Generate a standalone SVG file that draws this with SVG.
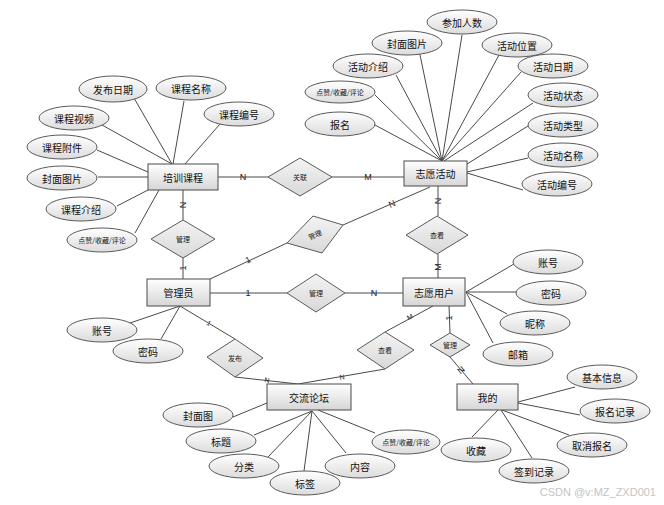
<svg xmlns="http://www.w3.org/2000/svg" width="664" height="505" viewBox="0 0 664 505">
<defs>
<linearGradient id="ge" x1="0" y1="0" x2="0" y2="1"><stop offset="0" stop-color="#ffffff"/><stop offset="1" stop-color="#dcdcdc"/></linearGradient>
<linearGradient id="gr" x1="0" y1="0" x2="0" y2="1"><stop offset="0" stop-color="#ffffff"/><stop offset="1" stop-color="#d6d6d6"/></linearGradient>
<linearGradient id="gd" x1="0" y1="0" x2="0" y2="1"><stop offset="0" stop-color="#f4f4f4"/><stop offset="1" stop-color="#d8d8d8"/></linearGradient>
</defs>
<style>
.e{fill:url(#ge);stroke:#5a5a5a;stroke-width:1}
.r{fill:url(#gr);stroke:#4a4a4a;stroke-width:1}
.d{fill:url(#gd);stroke:#5a5a5a;stroke-width:1}
.t{font-family:"Noto Sans CJK SC","Noto Sans",sans-serif;font-size:10px;fill:#111;text-anchor:middle;dominant-baseline:central}
.ts{font-family:"Noto Sans CJK SC","Noto Sans",sans-serif;font-size:7px;fill:#111;text-anchor:middle;dominant-baseline:central}
.tr{font-family:"Noto Sans CJK SC","Noto Sans",sans-serif;font-size:7px;fill:#222;text-anchor:middle;dominant-baseline:central}
.c{stroke:#4a4a4a;stroke-width:1;fill:none}
.l{font-family:"Liberation Sans",Arial,sans-serif;font-size:9px;fill:#222;text-anchor:middle;dominant-baseline:central}
.ls{font-family:"Liberation Sans",Arial,sans-serif;font-size:7px;fill:#222;text-anchor:middle;dominant-baseline:central}
</style>
<rect width="664" height="505" fill="#fff"/>
<g id="connectors">
<!-- 培训课程 attributes -->
<line class="c" x1="134" y1="98" x2="172" y2="164"/>
<line class="c" x1="184" y1="101" x2="173" y2="164"/>
<line class="c" x1="220" y1="124" x2="185" y2="164"/>
<line class="c" x1="102" y1="125" x2="172" y2="164"/>
<line class="c" x1="97" y1="150" x2="148" y2="172"/>
<line class="c" x1="98" y1="177" x2="148" y2="177"/>
<line class="c" x1="117" y1="206" x2="148" y2="190"/>
<line class="c" x1="135" y1="233" x2="159" y2="190"/>
<!-- 志愿活动 attributes -->
<line class="c" x1="375" y1="95" x2="442" y2="161"/>
<line class="c" x1="396" y1="75" x2="442" y2="161"/>
<line class="c" x1="419" y1="50" x2="442" y2="161"/>
<line class="c" x1="462" y1="35" x2="442" y2="161"/>
<line class="c" x1="499" y1="55" x2="442" y2="161"/>
<line class="c" x1="521" y1="72" x2="442" y2="161"/>
<line class="c" x1="533" y1="103" x2="444" y2="161"/>
<line class="c" x1="375" y1="125" x2="442" y2="161"/>
<line class="c" x1="528" y1="126" x2="467" y2="164"/>
<line class="c" x1="528" y1="158" x2="467" y2="172"/>
<line class="c" x1="523" y1="190" x2="467" y2="173"/>
<!-- 志愿用户 attributes -->
<line class="c" x1="466" y1="292" x2="514" y2="264"/>
<line class="c" x1="466" y1="292" x2="516" y2="292"/>
<line class="c" x1="466" y1="292" x2="507" y2="314"/>
<line class="c" x1="466" y1="292" x2="493" y2="343"/>
<!-- 管理员 attributes -->
<line class="c" x1="180" y1="306" x2="130" y2="323"/>
<line class="c" x1="180" y1="306" x2="161" y2="339"/>
<!-- 交流论坛 attributes -->
<line class="c" x1="233" y1="417" x2="267" y2="403"/>
<line class="c" x1="254" y1="435" x2="312" y2="411"/>
<line class="c" x1="268" y1="457" x2="312" y2="411"/>
<line class="c" x1="304" y1="471" x2="312" y2="411"/>
<line class="c" x1="346" y1="453" x2="312" y2="411"/>
<line class="c" x1="375" y1="433" x2="318" y2="410"/>
<!-- 我的 attributes -->
<line class="c" x1="518" y1="402" x2="575" y2="387"/>
<line class="c" x1="518" y1="403" x2="580" y2="415"/>
<line class="c" x1="502" y1="410" x2="569" y2="435"/>
<line class="c" x1="498" y1="410" x2="472" y2="437"/>
<line class="c" x1="501" y1="410" x2="532" y2="458"/>
<!-- relationships -->
<line class="c" x1="218" y1="177" x2="268" y2="177"/>
<line class="c" x1="332" y1="177" x2="404" y2="177"/>
<line class="c" x1="183" y1="190" x2="183" y2="220"/>
<line class="c" x1="183" y1="258" x2="183" y2="279"/>
<line class="c" x1="210" y1="279" x2="287" y2="243"/>
<line class="c" x1="343" y1="225" x2="430" y2="187"/>
<line class="c" x1="438" y1="186" x2="438" y2="216"/>
<line class="c" x1="438" y1="254" x2="438" y2="278"/>
<line class="c" x1="210" y1="293" x2="287" y2="293"/>
<line class="c" x1="345" y1="293" x2="403" y2="293"/>
<line class="c" x1="433" y1="306" x2="385" y2="332"/>
<line class="c" x1="385" y1="369" x2="298" y2="384"/>
<line class="c" x1="180" y1="306" x2="235" y2="339"/>
<line class="c" x1="235" y1="377" x2="298" y2="384"/>
<line class="c" x1="449" y1="306" x2="450" y2="333"/>
<line class="c" x1="450" y1="357" x2="473" y2="384"/>
<!-- cardinality labels -->
<text class="l" x="243" y="177">N</text>
<text class="l" x="368" y="177">M</text>
<text class="l" x="183" y="205" transform="rotate(-90 183 205)">N</text>
<text class="l" x="183" y="268" transform="rotate(-90 183 268)">1</text>
<text class="l" x="248" y="260" transform="rotate(-25 248 260)">1</text>
<text class="l" x="392" y="204" transform="rotate(-24 392 204)">N</text>
<text class="l" x="438" y="201" transform="rotate(-90 438 201)">N</text>
<text class="l" x="438" y="267" transform="rotate(-90 438 267)">M</text>
<text class="l" x="248" y="293">1</text>
<text class="l" x="374" y="293">N</text>
<text class="ls" x="410" y="317" transform="rotate(-28 410 317)">M</text>
<text class="ls" x="342" y="377" transform="rotate(-10 342 377)">N</text>
<text class="ls" x="209" y="323" transform="rotate(31 209 323)">1</text>
<text class="ls" x="267" y="380" transform="rotate(6 267 380)">N</text>
<text class="l" x="449" y="318" transform="rotate(-90 449 318)">1</text>
<text class="l" x="461" y="370" transform="rotate(-40 461 370)">N</text>
</g>
<g id="e-peixun"><rect class="r" x="148" y="164" width="70" height="26"/><text class="t" x="183" y="177">培训课程</text></g>
<g id="e-huodong"><rect class="r" x="404" y="161" width="63" height="25"/><text class="t" x="435.5" y="173.5">志愿活动</text></g>
<g id="e-admin"><rect class="r" x="147" y="279" width="63" height="27"/><text class="t" x="178.5" y="292.5">管理员</text></g>
<g id="e-user"><rect class="r" x="403" y="278" width="62" height="28"/><text class="t" x="434" y="292">志愿用户</text></g>
<g id="e-forum"><rect class="r" x="267" y="384" width="84" height="26"/><text class="t" x="309" y="397">交流论坛</text></g>
<g id="e-mine"><rect class="r" x="457" y="384" width="61" height="26"/><text class="t" x="487.5" y="397">我的</text></g>
<g id="r-guanlian"><polygon class="d" points="268,177 300,158 332,177 300,196"/><text class="tr" x="300" y="177">关联</text></g>
<g id="r-guanli1"><polygon class="d" points="151,239 183,220 215,239 183,258"/><text class="tr" x="183" y="239">管理</text></g>
<g id="r-guanli2"><polygon class="d" points="287,243 313,216 343,225 322,253"/><text class="tr" x="315" y="234.5" transform="rotate(-22 315 234.5)">管理</text></g>
<g id="r-chakan1"><polygon class="d" points="406,235 437,216 468,235 437,254"/><text class="tr" x="437" y="235">查看</text></g>
<g id="r-guanli3"><polygon class="d" points="287,293 316,274 345,293 316,312"/><text class="tr" x="316" y="293">管理</text></g>
<g id="r-fabu"><polygon class="d" points="207,357 235,339 263,358 235,377"/><text class="tr" x="235" y="358">发布</text></g>
<g id="r-chakan2"><polygon class="d" points="357,350 385,332 414,350 385,369"/><text class="tr" x="385" y="350">查看</text></g>
<g id="r-guanli4"><polygon class="d" points="430,345 450,333 470,345 450,357"/><text class="tr" x="450" y="345">管理</text></g>
<g id="a-fbrq"><ellipse class="e" cx="113" cy="89" rx="34" ry="13"/><text class="t" x="113" y="89">发布日期</text></g>
<g id="a-kcmc"><ellipse class="e" cx="191" cy="88" rx="35" ry="12"/><text class="t" x="191" y="88">课程名称</text></g>
<g id="a-kcbh"><ellipse class="e" cx="239" cy="114" rx="35" ry="12"/><text class="t" x="239" y="114">课程编号</text></g>
<g id="a-kcsp"><ellipse class="e" cx="74" cy="118" rx="35" ry="12"/><text class="t" x="74" y="118">课程视频</text></g>
<g id="a-kcfj"><ellipse class="e" cx="62" cy="147" rx="35" ry="12"/><text class="t" x="62" y="147">课程附件</text></g>
<g id="a-fmtp1"><ellipse class="e" cx="62" cy="178" rx="35" ry="12"/><text class="t" x="62" y="178">封面图片</text></g>
<g id="a-kcjs"><ellipse class="e" cx="81" cy="209" rx="35" ry="12"/><text class="t" x="81" y="209">课程介绍</text></g>
<g id="a-dz1"><ellipse class="e" cx="102" cy="240" rx="35" ry="12"/><text class="ts" x="102" y="240">点赞/收藏/评论</text></g>
<g id="a-cjrs"><ellipse class="e" cx="462" cy="22" rx="35" ry="12"/><text class="t" x="462" y="22">参加人数</text></g>
<g id="a-fmtp2"><ellipse class="e" cx="407" cy="43" rx="35" ry="12"/><text class="t" x="407" y="43">封面图片</text></g>
<g id="a-hdwz"><ellipse class="e" cx="517" cy="45" rx="35" ry="12"/><text class="t" x="517" y="45">活动位置</text></g>
<g id="a-hdjs"><ellipse class="e" cx="368" cy="66" rx="35" ry="12"/><text class="t" x="368" y="66">活动介绍</text></g>
<g id="a-hdrq"><ellipse class="e" cx="553" cy="66" rx="35" ry="12"/><text class="t" x="553" y="66">活动日期</text></g>
<g id="a-dz2"><ellipse class="e" cx="340" cy="92" rx="35" ry="11"/><text class="ts" x="340" y="92">点赞/收藏/评论</text></g>
<g id="a-hdzt"><ellipse class="e" cx="563" cy="95" rx="35" ry="12"/><text class="t" x="563" y="95">活动状态</text></g>
<g id="a-bm"><ellipse class="e" cx="340" cy="124" rx="35" ry="12"/><text class="t" x="340" y="124">报名</text></g>
<g id="a-hdlx"><ellipse class="e" cx="563" cy="125" rx="35" ry="12"/><text class="t" x="563" y="125">活动类型</text></g>
<g id="a-hdmc"><ellipse class="e" cx="563" cy="155" rx="35" ry="12"/><text class="t" x="563" y="155">活动名称</text></g>
<g id="a-hdbh"><ellipse class="e" cx="557" cy="184" rx="35" ry="12"/><text class="t" x="557" y="184">活动编号</text></g>
<g id="a-zh2"><ellipse class="e" cx="548" cy="262" rx="35" ry="12"/><text class="t" x="548" y="262">账号</text></g>
<g id="a-mm2"><ellipse class="e" cx="551" cy="293" rx="35" ry="12"/><text class="t" x="551" y="293">密码</text></g>
<g id="a-nc"><ellipse class="e" cx="535" cy="323" rx="35" ry="12"/><text class="t" x="535" y="323">昵称</text></g>
<g id="a-yx"><ellipse class="e" cx="518" cy="354" rx="35" ry="12"/><text class="t" x="518" y="354">邮箱</text></g>
<g id="a-zh1"><ellipse class="e" cx="102" cy="330" rx="35" ry="12"/><text class="t" x="102" y="330">账号</text></g>
<g id="a-mm1"><ellipse class="e" cx="148" cy="351" rx="35" ry="12"/><text class="t" x="148" y="351">密码</text></g>
<g id="a-fmt"><ellipse class="e" cx="198" cy="415" rx="35" ry="12"/><text class="t" x="198" y="415">封面图</text></g>
<g id="a-bt"><ellipse class="e" cx="221" cy="441" rx="35" ry="12"/><text class="t" x="221" y="441">标题</text></g>
<g id="a-fl"><ellipse class="e" cx="244" cy="466" rx="35" ry="12"/><text class="t" x="244" y="466">分类</text></g>
<g id="a-bq"><ellipse class="e" cx="305" cy="483" rx="35" ry="12"/><text class="t" x="305" y="483">标签</text></g>
<g id="a-nr"><ellipse class="e" cx="360" cy="466" rx="35" ry="12"/><text class="t" x="360" y="466">内容</text></g>
<g id="a-dz3"><ellipse class="e" cx="406" cy="442" rx="34" ry="12"/><text class="ts" x="406" y="442">点赞/收藏/评论</text></g>
<g id="a-jbxx"><ellipse class="e" cx="602" cy="377" rx="35" ry="12"/><text class="t" x="602" y="377">基本信息</text></g>
<g id="a-bmjl"><ellipse class="e" cx="615" cy="411" rx="35" ry="12"/><text class="t" x="615" y="411">报名记录</text></g>
<g id="a-qxbm"><ellipse class="e" cx="592" cy="445" rx="35" ry="12"/><text class="t" x="592" y="445">取消报名</text></g>
<g id="a-sc"><ellipse class="e" cx="476" cy="450" rx="35" ry="12"/><text class="t" x="476" y="450">收藏</text></g>
<g id="a-qdjl"><ellipse class="e" cx="534" cy="471" rx="35" ry="12"/><text class="t" x="534" y="471">签到记录</text></g>
<text x="656" y="492" font-family="Liberation Sans, Arial, sans-serif" font-size="11" fill="#c4c4c4" text-anchor="end" dominant-baseline="central">CSDN @v:MZ_ZXD001</text>
</svg>
